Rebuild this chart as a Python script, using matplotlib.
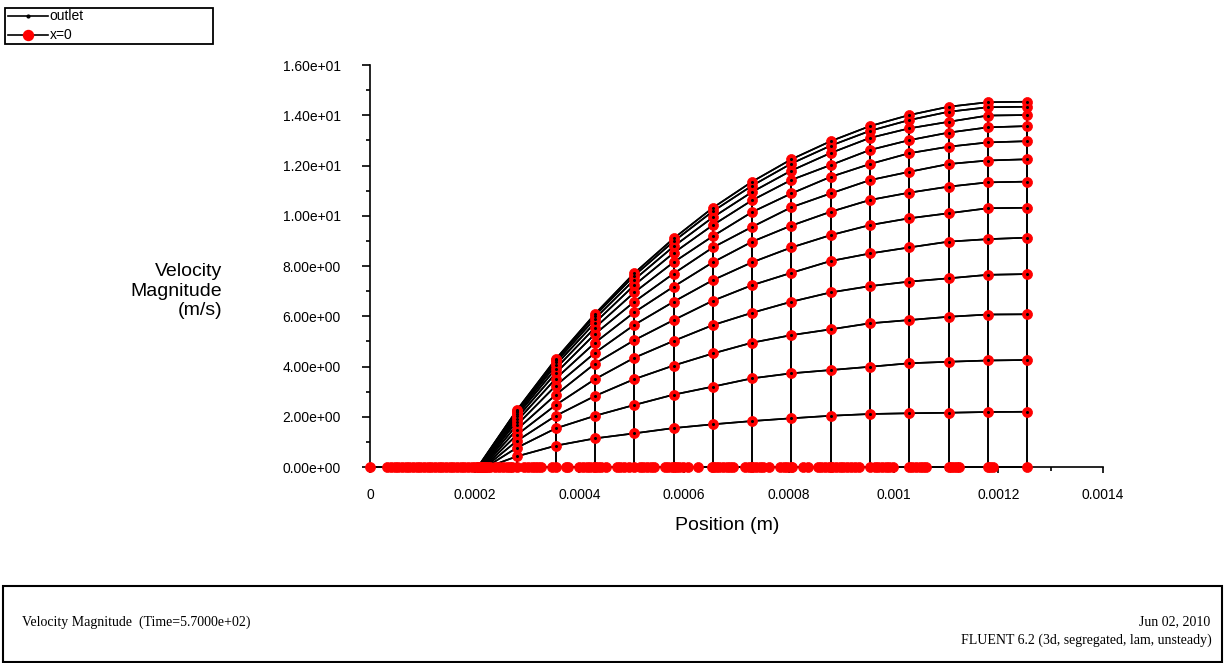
import numpy as np
import matplotlib
matplotlib.use('Agg')
import matplotlib.pyplot as plt
from matplotlib.lines import Line2D
from matplotlib.patches import Rectangle

# x=0 mesh columns, position in micrometres
col_pos_um = [280, 355, 430, 505, 580, 655, 730, 805, 880, 955, 1030, 1105, 1180, 1255]

# velocity (m/s) at every node of a column, top row first
col_vel = [
    [2.25, 2.22, 2.17, 2.11, 2.03, 1.93, 1.81, 1.66, 1.48, 1.27, 1.03, 0.76, 0.42],
    [4.30, 4.25, 4.17, 4.06, 3.92, 3.74, 3.52, 3.24, 2.88, 2.47, 2.04, 1.54, 0.85],
    [6.10, 6.03, 5.91, 5.75, 5.55, 5.30, 4.95, 4.55, 4.12, 3.50, 2.83, 2.04, 1.14],
    [7.72, 7.62, 7.46, 7.24, 6.95, 6.58, 6.16, 5.66, 5.05, 4.35, 3.50, 2.47, 1.34],
    [9.10, 8.98, 8.78, 8.52, 8.15, 7.70, 7.18, 6.58, 5.85, 5.02, 4.04, 2.88, 1.55],
    [10.32, 10.18, 9.94, 9.63, 9.19, 8.74, 8.15, 7.44, 6.62, 5.65, 4.52, 3.20, 1.70],
    [11.36, 11.20, 10.95, 10.62, 10.15, 9.56, 8.97, 8.15, 7.24, 6.14, 4.95, 3.53, 1.83],
    [12.25, 12.08, 11.80, 11.43, 10.89, 10.34, 9.61, 8.74, 7.73, 6.58, 5.25, 3.73, 1.94],
    [12.97, 12.79, 12.50, 12.02, 11.55, 10.89, 10.16, 9.23, 8.20, 6.95, 5.48, 3.86, 2.04],
    [13.57, 13.38, 13.10, 12.62, 12.06, 11.42, 10.63, 9.63, 8.50, 7.20, 5.72, 3.99, 2.11],
    [14.01, 13.81, 13.48, 13.01, 12.49, 11.75, 10.92, 9.90, 8.74, 7.38, 5.85, 4.13, 2.14],
    [14.34, 14.14, 13.74, 13.31, 12.75, 12.06, 11.16, 10.10, 8.97, 7.51, 5.98, 4.19, 2.16],
    [14.52, 14.32, 13.99, 13.52, 12.92, 12.20, 11.33, 10.30, 9.07, 7.65, 6.07, 4.24, 2.19],
    [14.54, 14.34, 14.01, 13.57, 12.97, 12.25, 11.36, 10.32, 9.13, 7.68, 6.08, 4.26, 2.20],
]

# wall node where each row begins (micrometres), top row first
row_start_um = [206, 207, 208, 209, 210, 211, 212, 214, 216, 218, 220, 222, 225]

# remaining wall nodes, velocity 0 (micrometres)
wall_um = [0,
           33, 40, 47, 54, 61, 68, 75, 82, 89, 96, 103, 110, 117, 124, 131, 138,
           145, 152, 159, 166, 173, 180, 187, 194, 201, 230, 238, 246, 254, 262, 268, 272,
           295, 302, 309, 315, 320, 326, 347, 375, 379,
           400, 407, 414, 421, 428, 435, 442, 450, 471, 478, 485, 494,
           515, 522, 529, 536, 542, 563, 570, 577, 584, 591, 598, 607, 626,
           653, 660, 667, 674, 681, 688, 693, 716, 723, 730, 737, 744, 751, 762,
           783, 790, 797, 807, 827, 836,
           855, 862, 869, 876, 883, 890, 897, 904, 911, 918, 926, 934,
           964, 971, 978, 985, 992, 998, 1036, 1043, 1050, 1056, 1062,
           1110, 1116, 1121, 1125, 1184, 1190]

# the outlet profile lies on top of the x=0 one
outlet_vel = col_vel

x_ticks = [0, 0.0002, 0.0004, 0.0006, 0.0008, 0.001, 0.0012, 0.0014]
x_tick_labels = ['0', '0.0002', '0.0004', '0.0006', '0.0008', '0.001', '0.0012', '0.0014']
y_ticks = [0, 2, 4, 6, 8, 10, 12, 14, 16]
y_tick_labels = ['0.00e+00', '2.00e+00', '4.00e+00', '6.00e+00', '8.00e+00',
                 '1.00e+01', '1.20e+01', '1.40e+01', '1.60e+01']

plt.rcParams['font.family'] = ['Liberation Sans', 'DejaVu Sans']

fig = plt.figure(figsize=(12.25, 6.63), dpi=100, facecolor='white')
ax = fig.add_axes([0.3020, 0.2956, 0.5984, 0.6063])

xc = np.array(col_pos_um) * 1e-6
xs0 = np.array(row_start_um) * 1e-6
xw = np.array(wall_um) * 1e-6
RED = '#ff0000'


def mesh_lines(vel, lw, z):
    v = np.array(vel)
    for r in range(v.shape[1]):
        ax.plot(np.r_[xs0[r], xc], np.r_[0, v[:, r]], color='black', lw=lw,
                zorder=z, clip_on=False)
    for c in range(v.shape[0]):
        ax.plot(np.full(v.shape[1] + 1, xc[c]), np.r_[0, v[c]], color='black',
                lw=lw, zorder=z, clip_on=False)
    zx = np.sort(np.r_[xw, xs0, xc])
    ax.plot(zx, np.zeros_like(zx), color='black', lw=lw, zorder=z, clip_on=False)


# outlet lines, then x=0 lines and markers, outlet dots on top
mesh_lines(outlet_vel, 1.2, 2)
mesh_lines(col_vel, 1.2, 2)

v0 = np.array(col_vel)
px = np.r_[np.repeat(xc, v0.shape[1]), xc, xs0, xw]
py = np.r_[v0.ravel(), np.zeros(len(xc) + len(xs0) + len(xw))]
ax.plot(px, py, ls='none', marker='o', ms=7.2, mfc=RED, mec=RED,
        mew=0.5, zorder=3, clip_on=False)

vo = np.array(outlet_vel)
ax.plot(np.repeat(xc, vo.shape[1]), vo.ravel(), ls='none', marker='o', ms=1.2,
        mfc='black', mec='black', zorder=4, clip_on=False)

ax.set_xlim(0, 0.0014)
ax.set_ylim(0, 16)
ax.set_xticks(x_ticks)
ax.set_xticklabels(x_tick_labels)
ax.set_xticks([0.0001, 0.0003, 0.0005, 0.0007, 0.0009, 0.0011, 0.0013], minor=True)
ax.set_yticks(y_ticks)
ax.set_yticklabels(y_tick_labels)
ax.set_yticks([1, 3, 5, 7, 9, 11, 13, 15], minor=True)

for s in ['top', 'right']:
    ax.spines[s].set_visible(False)
for s in ['left', 'bottom']:
    ax.spines[s].set_linewidth(1.2)
ax.tick_params(axis='y', which='major', length=6, width=1.2, pad=15, labelsize=10)
ax.tick_params(axis='y', which='minor', length=3, width=1.2)
ax.tick_params(axis='x', which='major', length=4, width=1.2, pad=11, labelsize=10)
ax.tick_params(axis='x', which='minor', length=3, width=1.2)

fig.text(0.1812, 0.561, 'Velocity\nMagnitude\n(m/s)', ha='right', va='center',
         ma='right', fontsize=14, linespacing=1.18)
fig.text(0.5935, 0.208, 'Position (m)', ha='center', va='center', fontsize=14)

# legend box, top left
fig.add_artist(Rectangle((0.0041, 0.9336), 0.1698, 0.0543, transform=fig.transFigure,
                         fill=False, edgecolor='black', lw=1.3))
fig.add_artist(Line2D([0.0065, 0.0392], [0.9759, 0.9759], transform=fig.transFigure,
                      color='black', lw=1.2))
fig.add_artist(Line2D([0.0228], [0.9759], transform=fig.transFigure, ls='none',
                      marker='o', ms=2, mfc='black', mec='black'))
fig.add_artist(Line2D([0.0065, 0.0392], [0.9472, 0.9472], transform=fig.transFigure,
                      color='black', lw=1.2))
fig.add_artist(Line2D([0.0228], [0.9472], transform=fig.transFigure, ls='none',
                      marker='o', ms=7.2, mfc=RED, mec=RED))
fig.text(0.0405, 0.9755, 'outlet', ha='left', va='center', fontsize=10)
fig.text(0.0405, 0.9470, 'x=0', ha='left', va='center', fontsize=10)

# title box at the bottom
fig.add_artist(Rectangle((0.0025, 0.0020), 0.9951, 0.1141, transform=fig.transFigure,
                         fill=False, edgecolor='black', lw=1.5))
fig.text(0.018, 0.0618, 'Velocity Magnitude  (Time=5.7000e+02)', ha='left',
         va='center', fontsize=10, family='Liberation Serif')
fig.text(0.9878, 0.0618, 'Jun 02, 2010', ha='right', va='center', fontsize=10,
         family='Liberation Serif')
fig.text(0.9894, 0.0347, 'FLUENT 6.2 (3d, segregated, lam, unsteady)', ha='right',
         va='center', fontsize=10, family='Liberation Serif')

fig.savefig('out.png', dpi=100, facecolor='white')
